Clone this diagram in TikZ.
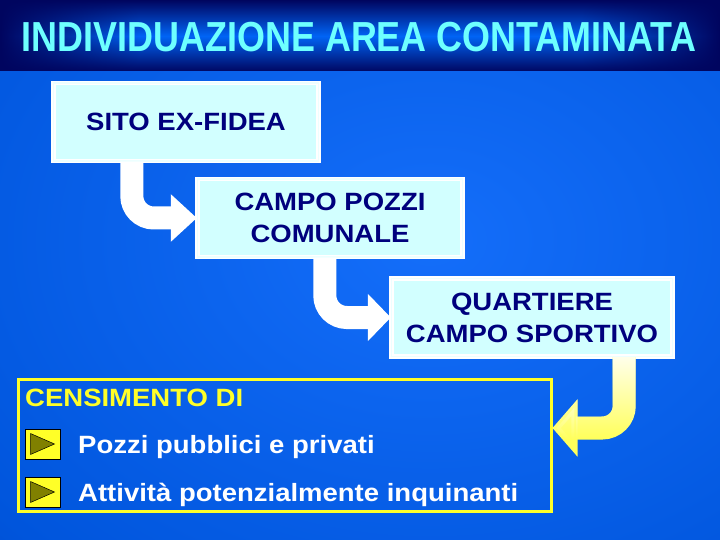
\documentclass[tikz,border=0pt]{standalone}
\usepackage{fontspec}
\setmainfont{Liberation Sans}
\newfontfamily\bodyfont[FakeStretch=1.1]{Liberation Sans}
\newfontfamily\titlefont[FakeStretch=0.855]{Liberation Sans}
\usetikzlibrary{arrows.meta,fadings}

\definecolor{glowA}{RGB}{20,110,250}
\definecolor{glowB}{RGB}{0,85,220}
\definecolor{glowC}{RGB}{0,30,125}
\definecolor{barDark}{RGB}{0,5,95}
\definecolor{barLight}{RGB}{0,100,245}
\definecolor{titleCyan}{RGB}{110,255,255}
\definecolor{boxFill}{RGB}{210,255,255}
\definecolor{boxText}{RGB}{0,0,125}
\definecolor{censYellow}{RGB}{255,255,40}
\definecolor{triOlive}{RGB}{128,128,0}
\definecolor{arrowYellow}{RGB}{255,255,90}

\pgfdeclareradialshading{bgglow}{\pgfpoint{0bp}{0bp}}{color(0bp)=(glowA); color(22bp)=(glowB); color(50bp)=(glowC)}

\tikzfading[name=fadeleft, left color=transparent!0, right color=transparent!100]
\tikzfading[name=faderight, left color=transparent!100, right color=transparent!0]
\tikzfading[name=fadedown, top color=transparent!0, bottom color=transparent!100]

\begin{document}
\begin{tikzpicture}[x=1pt, y=-1pt]
    \useasboundingbox (0,0) rectangle (720,540);

    % Sfondo
    \shade[top color=barDark, bottom color=barDark, middle color=barLight] (0,0) rectangle (720,72);
    \fill[barDark, path fading=fadeleft] (0,0) rectangle (140,72);
    \fill[barDark, path fading=faderight] (580,0) rectangle (720,72);
    \begin{scope}
      \clip (0,72) rectangle (720,540);
      \shade[shading=bgglow] (430,240) ellipse (640 and 480);
    \end{scope}

    % Stili
    \tikzset{
      sitebox/.style={
        draw=white, line width=1.4pt, double=boxFill!40!white, double distance=1.8pt,
        fill=boxFill, text=boxText, align=center, inner sep=0pt, minimum height=78pt,
        font=\bodyfont\bfseries\fontsize{25}{32}\selectfont
      },
      bigarrow/.style={line width=23pt, rounded corners=22pt},
      bullet/.style={fill=censYellow, draw=black, line width=0.6pt, minimum width=35pt, minimum height=30pt, inner sep=0pt},
      itemtext/.style={text=white, anchor=base west, inner sep=0pt, font=\bodyfont\bfseries\fontsize{25}{30}\selectfont}
    }

    % Titolo
    \node[text=titleCyan, anchor=base, inner sep=0pt, font=\titlefont\bfseries\fontsize{42}{48}\selectfont] (title) at (359,52)
      {INDIVIDUAZIONE AREA CONTAMINATA};

    % Riquadri
    \node[sitebox, minimum width=265pt] (sito) at (186,122) {SITO EX-FIDEA};
    \node[sitebox, minimum width=265pt] (campo) at (330,218) {CAMPO POZZI\\COMUNALE};
    \node[sitebox, minimum width=281pt] (quart) at (532,317.5) {QUARTIERE\\CAMPO SPORTIVO};

    \node[draw=censYellow, line width=3pt, minimum width=533pt, minimum height=132pt, inner sep=0pt] (cens) at (284.5,445) {};
    \node[text=censYellow, anchor=base west, inner sep=0pt, font=\bodyfont\bfseries\fontsize{25}{30}\selectfont] (censtitle) at (25,406) {CENSIMENTO DI};

    % Frecce
    \draw[bigarrow, white, -{Triangle[length=26pt, width=46pt]}] ([xshift=79pt]sito.south west) |- (campo.west);
    \draw[bigarrow, white, -{Triangle[length=23pt, width=46pt]}] ([xshift=128pt]campo.south west) |- (quart.west);
    \draw[bigarrow, arrowYellow, -{Triangle[length=25pt, width=56pt]}] ([xshift=-49pt]quart.south east) |- ([yshift=17pt]cens.east);
    \draw[bigarrow, white, path fading=fadedown, -{Triangle[length=25pt, width=56pt]}] ([xshift=-49pt]quart.south east) |- ([yshift=17pt]cens.east);

    % Voci dell'elenco
    \foreach \n/\yy/\txt in {1/444/{Pozzi pubblici e privati}, 2/492/{Attività potenzialmente inquinanti}} {
      \node[bullet] (bul\n) at (42.5,\yy) {};
      \filldraw[fill=triOlive, draw=black, line width=0.5pt]
        ([shift={(-12pt,10.5pt)}]bul\n.center) -- ([shift={(12pt,0pt)}]bul\n.center) -- ([shift={(-12pt,-10.5pt)}]bul\n.center) -- cycle;
      \node[itemtext] (item\n) at (78,{\yy+9}) {\txt};
    }
\end{tikzpicture}
\end{document}
